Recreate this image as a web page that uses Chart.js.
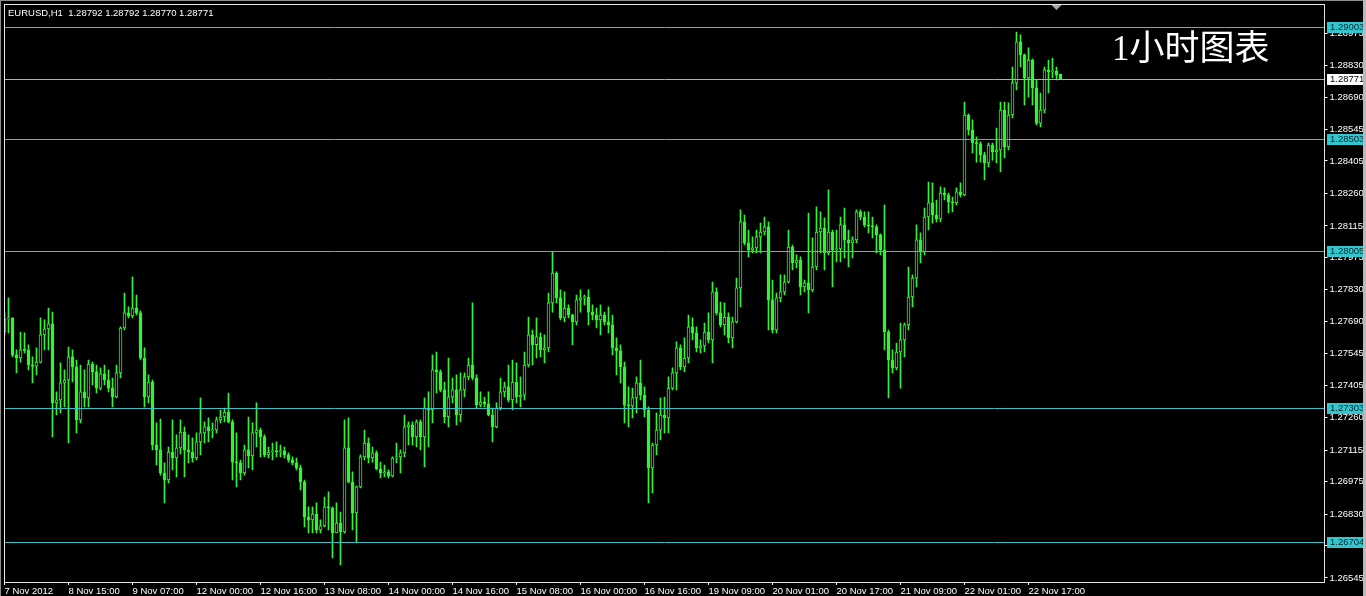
<!DOCTYPE html>
<html>
<head>
<meta charset="utf-8">
<title>EURUSD H1</title>
<script src="https://cdn.jsdelivr.net/npm/chart.js@4.4.0/dist/chart.umd.min.js"></script>
<style>
  html, body { margin: 0; padding: 0; background: #000; overflow: hidden; }
  canvas { display: block; }
</style>
</head>
<body>
<canvas id="chart" width="1366" height="596"></canvas>
<script>
// ---------------- data ----------------
const symbolInfo = 'EURUSD,H1  1.28792 1.28792 1.28770 1.28771';
const chartTitle = '1小时图表';

// one label every 16 hourly bars, starting at bar 0
const timeTicks = ['7 Nov 2012', '8 Nov 15:00', '9 Nov 07:00', '12 Nov 00:00', '12 Nov 16:00',
  '13 Nov 08:00', '14 Nov 00:00', '14 Nov 16:00', '15 Nov 08:00', '16 Nov 00:00', '16 Nov 16:00',
  '19 Nov 09:00', '20 Nov 01:00', '20 Nov 17:00', '21 Nov 09:00', '22 Nov 01:00', '22 Nov 17:00'];

const priceTicks = [1.28975, 1.28830, 1.28690, 1.28545, 1.28405, 1.28260, 1.28115, 1.27975, 1.27830,
  1.27690, 1.27545, 1.27405, 1.27260, 1.27115, 1.26975, 1.26830, 1.26690, 1.26545];

const levels = [1.29003, 1.28503, 1.28005, 1.27303, 1.26704];
const bidPrice = 1.28771;

const opens = [
  1.27642, 1.27700, 1.27705, 1.27540, 1.27526, 1.27562, 1.27560, 1.27495, 1.27490, 1.27508,
  1.27629, 1.27656, 1.27678, 1.27326, 1.27339, 1.27415, 1.27428, 1.27531, 1.27486, 1.27250,
  1.27375, 1.27348, 1.27499, 1.27464, 1.27392, 1.27455, 1.27428, 1.27392, 1.27352, 1.27460,
  1.27660, 1.27727, 1.27714, 1.27749, 1.27727, 1.27526, 1.27352, 1.27419, 1.27138, 1.27116,
  1.27013, 1.26982, 1.27107, 1.27080, 1.27125, 1.27196, 1.27116, 1.27107, 1.27080, 1.27152,
  1.27192, 1.27219, 1.27201, 1.27205, 1.27250, 1.27263, 1.27285, 1.27241, 1.27062, 1.27058,
  1.27013, 1.27116, 1.27089, 1.27192, 1.27205, 1.27174, 1.27094, 1.27107, 1.27112, 1.27107,
  1.27112, 1.27094, 1.27071, 1.27058, 1.27036, 1.26973, 1.26817, 1.26804, 1.26830, 1.26759,
  1.26777, 1.26862, 1.26857, 1.26746, 1.26790, 1.26750, 1.27125, 1.26973, 1.26835, 1.26951,
  1.27085, 1.27147, 1.27080, 1.27103, 1.27031, 1.27013, 1.27018, 1.27000, 1.27080, 1.27085,
  1.27103, 1.27219, 1.27228, 1.27174, 1.27241, 1.27174, 1.27303, 1.27294, 1.27473, 1.27464,
  1.27384, 1.27263, 1.27352, 1.27384, 1.27272, 1.27384, 1.27442, 1.27495, 1.27437, 1.27317,
  1.27330, 1.27321, 1.27272, 1.27219, 1.27303, 1.27375, 1.27397, 1.27339, 1.27419, 1.27352,
  1.27361, 1.27495, 1.27629, 1.27585, 1.27620, 1.27562, 1.27571, 1.27772, 1.27905, 1.27794,
  1.27705, 1.27749, 1.27718, 1.27687, 1.27785, 1.27794, 1.27798, 1.27731, 1.27718, 1.27696,
  1.27718, 1.27687, 1.27674, 1.27571, 1.27558, 1.27486, 1.27317, 1.27312, 1.27348, 1.27415,
  1.27361, 1.27294, 1.27036, 1.27138, 1.27205, 1.27272, 1.27259, 1.27392, 1.27460, 1.27571,
  1.27486, 1.27526, 1.27665, 1.27638, 1.27571, 1.27580, 1.27642, 1.27607, 1.27821, 1.27727,
  1.27674, 1.27709, 1.27616, 1.27687, 1.27839, 1.28133, 1.28039, 1.28008, 1.28017, 1.28066,
  1.28088, 1.28111, 1.27785, 1.27651, 1.27794, 1.27821, 1.27865, 1.28021, 1.27950, 1.27963,
  1.27843, 1.27861, 1.27830, 1.27932, 1.28088, 1.28106, 1.27995, 1.28088, 1.28008, 1.28013,
  1.28120, 1.28053, 1.28039, 1.28053, 1.28178, 1.28155, 1.28120, 1.28115, 1.28111, 1.28075,
  1.28008, 1.27642, 1.27517, 1.27482, 1.27553, 1.27607, 1.27674, 1.27798, 1.27883, 1.28053,
  1.27999, 1.28155, 1.28218, 1.28164, 1.28146, 1.28262, 1.28253, 1.28222, 1.28218, 1.28267,
  1.28253, 1.28610, 1.28543, 1.28485, 1.28481, 1.28432, 1.28396, 1.28476, 1.28445, 1.28454,
  1.28632, 1.28467, 1.28610, 1.28753, 1.28936, 1.28878, 1.28775, 1.28855, 1.28731, 1.28574,
  1.28632, 1.28811, 1.28802, 1.28806, 1.28792
];

const highs = [
  1.27727, 1.27794, 1.27705, 1.27562, 1.27642, 1.27638, 1.27585, 1.27531, 1.27571, 1.27705,
  1.27696, 1.27749, 1.27731, 1.27375, 1.27504, 1.27473, 1.27575, 1.27562, 1.27517, 1.27495,
  1.27473, 1.27517, 1.27508, 1.27495, 1.27482, 1.27495, 1.27473, 1.27437, 1.27495, 1.27665,
  1.27816, 1.27754, 1.27888, 1.27807, 1.27736, 1.27571, 1.27451, 1.27428, 1.27237, 1.27254,
  1.27058, 1.27129, 1.27250, 1.27183, 1.27250, 1.27219, 1.27183, 1.27170, 1.27192, 1.27348,
  1.27241, 1.27259, 1.27237, 1.27263, 1.27294, 1.27303, 1.27370, 1.27250, 1.27192, 1.27071,
  1.27138, 1.27263, 1.27237, 1.27326, 1.27214, 1.27183, 1.27129, 1.27147, 1.27152, 1.27138,
  1.27129, 1.27103, 1.27085, 1.27080, 1.27049, 1.26982, 1.26862, 1.26862, 1.26880, 1.26804,
  1.26906, 1.26929, 1.26862, 1.26880, 1.26839, 1.27250, 1.27259, 1.27018, 1.26955, 1.27094,
  1.27205, 1.27170, 1.27129, 1.27112, 1.27062, 1.27049, 1.27027, 1.27085, 1.27147, 1.27116,
  1.27272, 1.27241, 1.27241, 1.27250, 1.27250, 1.27348, 1.27375, 1.27540, 1.27553, 1.27473,
  1.27419, 1.27526, 1.27437, 1.27451, 1.27460, 1.27460, 1.27526, 1.27772, 1.27451, 1.27375,
  1.27352, 1.27375, 1.27303, 1.27326, 1.27437, 1.27419, 1.27495, 1.27517, 1.27504, 1.27442,
  1.27553, 1.27709, 1.27651, 1.27705, 1.27638, 1.27629, 1.27816, 1.27999, 1.27910, 1.27830,
  1.27821, 1.27763, 1.27722, 1.27807, 1.27830, 1.27807, 1.27830, 1.27763, 1.27749, 1.27763,
  1.27731, 1.27754, 1.27718, 1.27616, 1.27585, 1.27508, 1.27397, 1.27392, 1.27442, 1.27517,
  1.27397, 1.27308, 1.27147, 1.27281, 1.27348, 1.27352, 1.27442, 1.27482, 1.27598, 1.27585,
  1.27616, 1.27718, 1.27705, 1.27665, 1.27607, 1.27682, 1.27727, 1.27865, 1.27839, 1.27776,
  1.27772, 1.27727, 1.27709, 1.27883, 1.28187, 1.28164, 1.28097, 1.28066, 1.28097, 1.28128,
  1.28155, 1.28133, 1.27874, 1.27816, 1.27897, 1.27897, 1.28097, 1.28030, 1.27986, 1.27977,
  1.27874, 1.28173, 1.28062, 1.28200, 1.28178, 1.28151, 1.28276, 1.28097, 1.28097, 1.28155,
  1.28195, 1.28097, 1.28066, 1.28187, 1.28187, 1.28178, 1.28178, 1.28155, 1.28120, 1.28080,
  1.28209, 1.27651, 1.27562, 1.27593, 1.27682, 1.27682, 1.27932, 1.27897, 1.28120, 1.28084,
  1.28195, 1.28311, 1.28307, 1.28231, 1.28289, 1.28285, 1.28262, 1.28244, 1.28285, 1.28307,
  1.28668, 1.28615, 1.28588, 1.28512, 1.28490, 1.28445, 1.28485, 1.28485, 1.28552, 1.28668,
  1.28668, 1.28664, 1.28824, 1.28980, 1.28967, 1.28882, 1.28909, 1.28860, 1.28766, 1.28708,
  1.28824, 1.28855, 1.28864, 1.28824, 1.28792
];

const lows = [
  1.27629, 1.27638, 1.27531, 1.27460, 1.27508, 1.27549, 1.27473, 1.27415, 1.27451, 1.27504,
  1.27562, 1.27562, 1.27174, 1.27272, 1.27281, 1.27308, 1.27147, 1.27419, 1.27192, 1.27237,
  1.27308, 1.27308, 1.27406, 1.27370, 1.27384, 1.27406, 1.27375, 1.27308, 1.27348, 1.27437,
  1.27651, 1.27705, 1.27705, 1.27718, 1.27517, 1.27308, 1.27326, 1.27116, 1.27049, 1.27004,
  1.26880, 1.26969, 1.27027, 1.26996, 1.27098, 1.26996, 1.27058, 1.27062, 1.27071, 1.27094,
  1.27147, 1.27152, 1.27170, 1.27192, 1.27237, 1.27241, 1.27237, 1.26982, 1.26951, 1.26982,
  1.27004, 1.27036, 1.27027, 1.27129, 1.27085, 1.27085, 1.27080, 1.27071, 1.27085, 1.27085,
  1.27080, 1.27062, 1.27049, 1.27027, 1.26938, 1.26773, 1.26746, 1.26746, 1.26746, 1.26746,
  1.26773, 1.26759, 1.26634, 1.26746, 1.26603, 1.26745, 1.26969, 1.26759, 1.26701, 1.26947,
  1.27071, 1.27058, 1.27062, 1.27027, 1.26991, 1.26996, 1.26991, 1.26996, 1.27058, 1.27013,
  1.27085, 1.27138, 1.27138, 1.27129, 1.27116, 1.27040, 1.27129, 1.27237, 1.27370, 1.27375,
  1.27237, 1.27219, 1.27326, 1.27228, 1.27241, 1.27352, 1.27428, 1.27428, 1.27303, 1.27308,
  1.27308, 1.27268, 1.27152, 1.27214, 1.27294, 1.27352, 1.27330, 1.27294, 1.27326, 1.27308,
  1.27339, 1.27486, 1.27495, 1.27526, 1.27531, 1.27504, 1.27553, 1.27731, 1.27772, 1.27696,
  1.27687, 1.27705, 1.27585, 1.27674, 1.27731, 1.27763, 1.27674, 1.27696, 1.27660, 1.27629,
  1.27674, 1.27638, 1.27540, 1.27451, 1.27415, 1.27237, 1.27219, 1.27259, 1.27281, 1.27339,
  1.27263, 1.26880, 1.26924, 1.27094, 1.27161, 1.27192, 1.27192, 1.27384, 1.27384, 1.27473,
  1.27464, 1.27504, 1.27607, 1.27553, 1.27549, 1.27553, 1.27593, 1.27504, 1.27718, 1.27665,
  1.27629, 1.27593, 1.27571, 1.27682, 1.27754, 1.28030, 1.27977, 1.27995, 1.27995, 1.27995,
  1.28075, 1.27651, 1.27638, 1.27638, 1.27776, 1.27807, 1.27861, 1.27919, 1.27928, 1.27807,
  1.27821, 1.27727, 1.27821, 1.27919, 1.27995, 1.27919, 1.27986, 1.27843, 1.27955, 1.27955,
  1.27972, 1.27932, 1.27972, 1.28039, 1.28142, 1.28111, 1.28084, 1.28062, 1.27995, 1.27986,
  1.27562, 1.27348, 1.27460, 1.27473, 1.27392, 1.27531, 1.27651, 1.27754, 1.27843, 1.27950,
  1.27986, 1.28097, 1.28128, 1.28133, 1.28133, 1.28231, 1.28173, 1.28178, 1.28209, 1.28244,
  1.28249, 1.28521, 1.28441, 1.28400, 1.28400, 1.28320, 1.28378, 1.28409, 1.28396, 1.28356,
  1.28418, 1.28454, 1.28597, 1.28722, 1.28824, 1.28655, 1.28690, 1.28655, 1.28566, 1.28557,
  1.28619, 1.28708, 1.28775, 1.28766, 1.28770
];

const closes = [
  1.27700, 1.27705, 1.27540, 1.27526, 1.27562, 1.27560, 1.27495, 1.27490, 1.27508, 1.27629,
  1.27656, 1.27678, 1.27326, 1.27339, 1.27415, 1.27428, 1.27531, 1.27486, 1.27250, 1.27375,
  1.27348, 1.27499, 1.27464, 1.27392, 1.27455, 1.27428, 1.27392, 1.27352, 1.27460, 1.27660,
  1.27727, 1.27714, 1.27749, 1.27727, 1.27526, 1.27352, 1.27419, 1.27138, 1.27116, 1.27013,
  1.26982, 1.27107, 1.27080, 1.27125, 1.27196, 1.27116, 1.27107, 1.27080, 1.27152, 1.27192,
  1.27219, 1.27201, 1.27205, 1.27250, 1.27263, 1.27285, 1.27241, 1.27062, 1.27058, 1.27013,
  1.27116, 1.27089, 1.27192, 1.27205, 1.27174, 1.27094, 1.27107, 1.27112, 1.27107, 1.27112,
  1.27094, 1.27071, 1.27058, 1.27036, 1.26973, 1.26817, 1.26804, 1.26830, 1.26759, 1.26777,
  1.26862, 1.26857, 1.26746, 1.26790, 1.26750, 1.27125, 1.26973, 1.26835, 1.26951, 1.27085,
  1.27147, 1.27080, 1.27103, 1.27031, 1.27013, 1.27018, 1.27000, 1.27080, 1.27085, 1.27103,
  1.27219, 1.27228, 1.27174, 1.27241, 1.27174, 1.27303, 1.27294, 1.27473, 1.27464, 1.27384,
  1.27263, 1.27352, 1.27384, 1.27272, 1.27384, 1.27442, 1.27495, 1.27437, 1.27317, 1.27330,
  1.27321, 1.27272, 1.27219, 1.27303, 1.27375, 1.27397, 1.27339, 1.27419, 1.27352, 1.27361,
  1.27495, 1.27629, 1.27585, 1.27620, 1.27562, 1.27571, 1.27772, 1.27905, 1.27794, 1.27705,
  1.27749, 1.27718, 1.27687, 1.27785, 1.27794, 1.27798, 1.27731, 1.27718, 1.27696, 1.27718,
  1.27687, 1.27674, 1.27571, 1.27558, 1.27486, 1.27317, 1.27312, 1.27348, 1.27415, 1.27361,
  1.27294, 1.27036, 1.27138, 1.27205, 1.27272, 1.27259, 1.27392, 1.27460, 1.27571, 1.27486,
  1.27526, 1.27665, 1.27638, 1.27571, 1.27580, 1.27642, 1.27607, 1.27821, 1.27727, 1.27674,
  1.27709, 1.27616, 1.27687, 1.27839, 1.28133, 1.28039, 1.28008, 1.28017, 1.28066, 1.28088,
  1.28111, 1.27785, 1.27651, 1.27794, 1.27821, 1.27865, 1.28021, 1.27950, 1.27963, 1.27843,
  1.27861, 1.27830, 1.27932, 1.28088, 1.28106, 1.27995, 1.28088, 1.28008, 1.28013, 1.28120,
  1.28053, 1.28039, 1.28053, 1.28178, 1.28155, 1.28120, 1.28115, 1.28111, 1.28075, 1.28008,
  1.27642, 1.27517, 1.27482, 1.27553, 1.27607, 1.27674, 1.27798, 1.27883, 1.28053, 1.27999,
  1.28155, 1.28218, 1.28164, 1.28146, 1.28262, 1.28253, 1.28222, 1.28218, 1.28267, 1.28253,
  1.28610, 1.28543, 1.28485, 1.28481, 1.28432, 1.28396, 1.28476, 1.28445, 1.28454, 1.28632,
  1.28467, 1.28610, 1.28753, 1.28936, 1.28878, 1.28775, 1.28855, 1.28731, 1.28574, 1.28632,
  1.28811, 1.28802, 1.28806, 1.28788, 1.28771
];

// ---------------- look ----------------
const candleGreen = 'rgb(52,242,52)';
const levelCyan = '#3cc0c8';
const levelBox = '#33c6cf';
const bidGrey = '#b0b0b0';
const tickFont = { family: 'Liberation Sans', size: 9.5 };
const slotCount = 331;   // visible bar slots, chart shifted to leave room on the right

const slots = Array.from({ length: slotCount }, (_, i) => i);

const mtOverlay = {
  id: 'mtOverlay',
  beforeDraw(chart) {
    const ctx = chart.ctx;
    ctx.save();
    ctx.fillStyle = '#000';
    ctx.fillRect(0, 0, chart.width, chart.height);
    ctx.restore();
  },
  afterDatasetsDraw(chart) {
    const { ctx, chartArea: a, scales: { y } } = chart;
    ctx.save();
    ctx.lineWidth = 1;
    ctx.strokeStyle = bidGrey;
    let py = Math.round(y.getPixelForValue(bidPrice)) + 0.5;
    ctx.beginPath(); ctx.moveTo(a.left, py); ctx.lineTo(a.right, py); ctx.stroke();
    ctx.strokeStyle = levelCyan;
    levels.forEach(v => {
      py = Math.round(y.getPixelForValue(v)) + 0.5;
      ctx.beginPath(); ctx.moveTo(a.left, py); ctx.lineTo(a.right, py); ctx.stroke();
    });
    ctx.restore();
  },
  afterDraw(chart) {
    const { ctx, chartArea: a, scales: { x, y } } = chart;
    ctx.save();

    // price boxes on the right axis
    ctx.font = '9.5px "Liberation Sans"';
    ctx.textBaseline = 'middle';
    ctx.textAlign = 'left';
    const boxX = Math.round(a.right) + 2;
    levels.forEach(v => {
      const py = Math.round(y.getPixelForValue(v));
      ctx.fillStyle = levelBox;
      ctx.fillRect(boxX, py - 5, 37, 11);
      ctx.fillStyle = '#06262c';
      ctx.fillText(v.toFixed(5), boxX + 3, py + 0.5);
    });
    const by = Math.round(y.getPixelForValue(bidPrice));
    ctx.fillStyle = '#ffffff';
    ctx.fillRect(boxX, by - 5, 37, 11);
    ctx.fillStyle = '#000';
    ctx.fillText(bidPrice.toFixed(5), boxX + 3, by + 0.5);

    // frame round the plot
    ctx.strokeStyle = '#e6e6e6';
    ctx.lineWidth = 1;
    const l = Math.floor(a.left) + 0.5, t = Math.floor(a.top) + 0.5;
    ctx.strokeRect(l, t, Math.floor(a.right) - Math.floor(a.left), Math.floor(a.bottom) - Math.floor(a.top));

    // window edges
    ctx.fillStyle = '#8c8c8c';
    ctx.fillRect(0, 0, chart.width, 1);
    ctx.fillRect(0, 0, 1, chart.height);
    ctx.fillStyle = '#b8b8b8';
    ctx.fillRect(chart.width - 3, 0, 3, chart.height);

    // chart shift marker
    const mx = x.getPixelForValue(closes.length - 1) - 4;
    ctx.fillStyle = '#a8a8a8';
    ctx.beginPath();
    ctx.moveTo(mx - 5, a.top + 1); ctx.lineTo(mx + 5, a.top + 1); ctx.lineTo(mx, a.top + 6);
    ctx.closePath(); ctx.fill();

    // symbol line, top left
    ctx.fillStyle = '#ffffff';
    ctx.font = '9.5px "Liberation Sans"';
    ctx.fillText(symbolInfo, 8, 13);

    // title
    ctx.font = '35px "Liberation Serif", "Noto Sans CJK SC"';
    ctx.fillText(chartTitle, 1112, 51);
    ctx.restore();
  }
};

const ctx = document.getElementById('chart').getContext('2d');
const chart = new Chart(ctx, {
  type: 'bar',
  data: {
    labels: slots,
    datasets: [
      {
        label: 'body',
        data: opens.map((o, i) => [o, closes[i]]),
        backgroundColor: opens.map((o, i) => closes[i] >= o ? '#000' : candleGreen),
        borderColor: candleGreen,
        borderWidth: 1,
        borderSkipped: false,
        barThickness: 3,
        minBarLength: 1,
        grouped: false,
        order: 0
      },
      {
        label: 'wick',
        data: lows.map((lo, i) => [lo, highs[i]]),
        backgroundColor: candleGreen,
        borderWidth: 0,
        barThickness: 1,
        grouped: false,
        order: 1
      }
    ]
  },
  options: {
    responsive: false,
    devicePixelRatio: 1,
    animation: false,
    events: [],
    layout: { padding: { left: 4.5, top: 4, right: 0, bottom: 0 } },
    plugins: { legend: { display: false }, tooltip: { enabled: false }, title: { display: false } },
    scales: {
      x: {
        type: 'category',
        offset: false,
        grid: { display: true, drawOnChartArea: false, drawTicks: true, tickLength: 3, color: '#ffffff', offset: false },
        border: { display: true, color: '#e6e6e6' },
        ticks: {
          autoSkip: false, maxRotation: 0, minRotation: 0, align: 'start', padding: 1,
          color: '#ffffff', font: tickFont,
          callback: v => timeTicks[v / 16] || ''
        },
        afterBuildTicks: s => { s.ticks = s.ticks.filter(t => t.value % 16 === 0 && t.value / 16 < timeTicks.length); },
        afterFit: s => { s.height = 14; s.paddingLeft = 0; s.paddingRight = 0; }
      },
      y: {
        position: 'right',
        min: 1.26527,
        max: 1.29105,
        grid: { display: true, drawOnChartArea: false, drawTicks: true, tickLength: 3, color: '#ffffff' },
        border: { display: true, color: '#e6e6e6' },
        ticks: { color: '#ffffff', font: tickFont, padding: 2, callback: v => v.toFixed(5) },
        afterBuildTicks: s => { s.ticks = priceTicks.map(v => ({ value: v })); },
        afterFit: s => { s.width = 41.5; s.paddingTop = 0; s.paddingBottom = 0; }
      }
    }
  },
  plugins: [mtOverlay]
});
</script>
</body>
</html>
